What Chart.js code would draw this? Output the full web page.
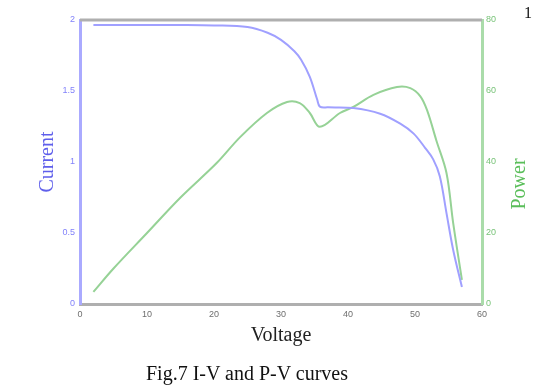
<!DOCTYPE html>
<html lang="en">
<head>
    <meta charset="UTF-8">
    <title>I-V and P-V curves</title>
    <script src="https://cdn.jsdelivr.net/npm/chart.js"></script>
    <style>
        body { margin: 0; background: #fff; }
        #wrap { position: relative; width: 534px; height: 388px; }
        #pageNo { position: absolute; left: 524px; top: 4px; font: 16px "Liberation Serif", serif; color: #111; }
        #caption { position: absolute; left: 146px; top: 362px; font: 20px "Liberation Serif", serif; color: #111; white-space: nowrap; }
    </style>
</head>
<body>
    <div id="wrap">
        <canvas id="ivChart" width="534" height="388"></canvas>
        <div id="pageNo">1</div>
        <div id="caption">Fig.7 I-V and P-V curves</div>
    </div>

    <script>
        // I-V curve (voltage, current)
        const voltageI = [2, 5, 10, 15, 20, 25, 28, 30, 32, 33, 34.3, 35.4, 35.8, 37, 40.8, 44.8, 47.8, 49.8, 51.5, 52.7, 53.7, 54.7, 55.7, 57];
        const currentVals = [1.965, 1.965, 1.965, 1.965, 1.962, 1.95, 1.91, 1.86, 1.78, 1.72, 1.60, 1.44, 1.39, 1.385, 1.38, 1.34, 1.27, 1.20, 1.10, 1.02, 0.90, 0.64, 0.38, 0.12];

        // P-V curve (voltage, power)
        const voltageP = [2, 5, 10, 15, 20.4, 23.9, 27.9, 30.9, 32.8, 34.3, 35.8, 38.8, 40.8, 43.8, 47.3, 49.3, 50.8, 51.8, 53.2, 54.7, 55.7, 57];
        const powerVals = [3.4, 10, 20, 30, 39.7, 47, 53.8, 56.9, 56.6, 53.8, 49.9, 53.8, 55.5, 58.9, 61.1, 60.8, 58.5, 54.6, 46, 36.9, 22.8, 6.8];

        const xTicks = [0, 10, 20, 30, 40, 50, 60];
        const currentTicks = [0, 0.5, 1, 1.5, 2];
        const powerTicks = [0, 20, 40, 60, 80];

        const blueLine = 'rgb(160, 160, 255)';
        const greenLine = 'rgb(150, 210, 150)';

        // top frame line + rotated "Power" label (reads bottom to top like the left one)
        const framePlugin = {
            id: 'frame',
            afterDraw(chart) {
                const ctx = chart.ctx;
                const a = chart.chartArea;
                ctx.save();
                ctx.strokeStyle = 'rgb(175, 175, 175)';
                ctx.lineWidth = 3;
                ctx.beginPath();
                ctx.moveTo(a.left, a.top);
                ctx.lineTo(a.right, a.top);
                ctx.stroke();

                ctx.translate(520, (a.top + a.bottom) / 2 + 22);
                ctx.rotate(-Math.PI / 2);
                ctx.fillStyle = 'rgb(90, 190, 90)';
                ctx.font = '20px "Liberation Serif", serif';
                ctx.textAlign = 'center';
                ctx.textBaseline = 'middle';
                ctx.fillText('Power', 0, 0);
                ctx.restore();
            }
        };

        const tickFont = { family: '"Liberation Sans"', size: 9 };

        const ctx = document.getElementById('ivChart').getContext('2d');
        new Chart(ctx, {
            type: 'line',
            data: {
                datasets: [{
                    label: 'Current',
                    data: voltageI.map((v, i) => ({ x: v, y: currentVals[i] })),
                    borderColor: blueLine,
                    borderWidth: 2,
                    pointRadius: 0,
                    tension: 0.35,
                    yAxisID: 'y'
                }, {
                    label: 'Power',
                    data: voltageP.map((v, i) => ({ x: v, y: powerVals[i] })),
                    borderColor: greenLine,
                    borderWidth: 2,
                    pointRadius: 0,
                    tension: 0.35,
                    yAxisID: 'y1'
                }]
            },
            options: {
                responsive: false,
                animation: false,
                layout: { padding: { top: 20, left: 0, right: 0, bottom: 0 } },
                plugins: {
                    legend: { display: false },
                    tooltip: { enabled: false }
                },
                scales: {
                    x: {
                        type: 'linear',
                        min: 0,
                        max: 60,
                        afterBuildTicks: s => { s.ticks = xTicks.map(v => ({ value: v })); },
                        grid: { display: false, drawTicks: false },
                        border: { color: 'rgb(175, 175, 175)', width: 3 },
                        ticks: { color: 'rgb(110, 110, 110)', font: tickFont, padding: 5 },
                        title: {
                            display: true,
                            text: 'Voltage',
                            align: 'center',
                            color: '#222',
                            font: { family: '"Liberation Serif", serif', size: 20 },
                            padding: { top: 0, bottom: 40 }
                        },
                        afterFit: s => { s.height = 84; }
                    },
                    y: {
                        position: 'left',
                        min: 0,
                        max: 2,
                        afterBuildTicks: s => { s.ticks = currentTicks.map(v => ({ value: v })); },
                        grid: { display: false, drawTicks: false },
                        border: { color: 'rgb(170, 170, 255)', width: 3 },
                        ticks: { color: 'rgb(130, 130, 250)', font: tickFont, padding: 5, callback: v => String(v) },
                        title: {
                            display: true,
                            text: 'Current',
                            color: 'rgb(95, 95, 235)',
                            font: { family: '"Liberation Serif", serif', size: 20 },
                            padding: { top: 36, bottom: 0 }
                        },
                        afterFit: s => { s.width = 80; }
                    },
                    y1: {
                        position: 'right',
                        min: 0,
                        max: 80,
                        afterBuildTicks: s => { s.ticks = powerTicks.map(v => ({ value: v })); },
                        grid: { display: false, drawTicks: false },
                        border: { color: 'rgb(170, 220, 170)', width: 3 },
                        ticks: { color: 'rgb(120, 195, 120)', font: tickFont, padding: 4 },
                        afterFit: s => { s.width = 52; }
                    }
                }
            },
            plugins: [framePlugin]
        });
    </script>
</body>
</html>
